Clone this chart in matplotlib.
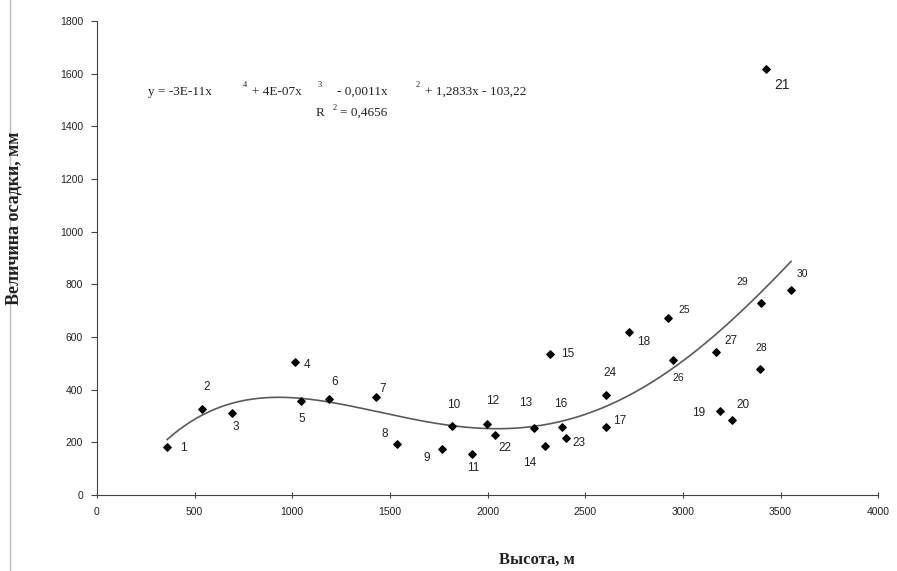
import numpy as np
import matplotlib.pyplot as plt
from matplotlib.lines import Line2D

# данные: высота (м) и величина осадки (мм) для точек 1..30
num = list(range(1, 31))
vys = [360, 539, 690, 1014, 1043, 1190, 1429, 1535, 1769, 1817,
       1922, 1996, 2240, 2294, 2318, 2383, 2605, 2726, 3192, 3251,
       3426, 2038, 2404, 2607, 2926, 2948, 3170, 3396, 3401, 3554]
osad = [183, 325, 313, 506, 356, 363, 371, 194, 175, 263,
        157, 268, 253, 187, 535, 259, 260, 619, 320, 284,
        1618, 228, 218, 381, 673, 513, 543, 477, 730, 777]

# смещения подписей точек (пиксели)
offs = {1: (16, -1), 2: (5, 22), 3: (4, -14), 4: (12, -3), 5: (1, -18),
        6: (5, 17), 7: (7, 8), 8: (-12, 10), 9: (-16, -9), 10: (2, 21),
        11: (1, -14), 12: (6, 23), 13: (-9, 25), 14: (-15, -17), 15: (18, 0),
        16: (-2, 23), 17: (14, 6), 18: (14, -10), 19: (-22, -2), 20: (11, 15),
        21: (16, -16), 22: (10, -13), 23: (13, -5), 24: (4, 22), 25: (16, 8),
        26: (6, -18), 27: (15, 11), 28: (1, 21), 29: (-19, 21), 30: (11, 16)}
small = [25, 26, 28, 29, 30]

x = np.array(vys)
y = np.array(osad)
coef = np.polyfit(x, y, 4)  # полиномиальный тренд 4-й степени
xt = np.linspace(x.min(), x.max(), 300)
yt = np.polyval(coef, xt)

fig = plt.figure(figsize=(8.97, 5.71), dpi=100)
ax = fig.add_axes([0.108, 0.133, 0.871, 0.830])
ax.plot(xt, yt, color='#5a5a5a', lw=1.2)
ax.scatter(x, y, s=14, marker='D', color='black', zorder=3)
for n, xi, yi in zip(num, vys, osad):
    fs = 7.5 if n in small else 8.5
    if n == 21:
        fs = 10
    ax.annotate(str(n), (xi, yi), xytext=offs[n], textcoords='offset pixels',
                ha='center', va='center', family='Liberation Sans',
                fontsize=fs, color='#222222')

ax.set_xlim(0, 4000)
ax.set_ylim(0, 1800)
ax.set_xticks(np.arange(0, 4001, 500))
ax.set_yticks(np.arange(0, 1801, 200))
for s in ['top', 'right']:
    ax.spines[s].set_visible(False)
for s in ['left', 'bottom']:
    ax.spines[s].set_color('#444444')
ax.tick_params(axis='x', direction='inout', length=5, labelsize=7.5, pad=6, colors='#444444', labelcolor='#222222')
ax.tick_params(axis='y', direction='out', length=4, labelsize=7.5, pad=6, colors='#444444', labelcolor='#222222')
for lab in ax.get_xticklabels() + ax.get_yticklabels():
    lab.set_family('Liberation Sans')

# подписи осей
fig.text(537 / 897, 1 - 560 / 571, 'Высота, м', family='Liberation Serif',
         fontsize=12, fontweight='bold', ha='center', va='center', color='#222222')
fig.text(14 / 897, 1 - 218 / 571, 'Величина осадки, мм', family='Liberation Serif',
         fontsize=13, fontweight='bold', rotation=90, ha='center', va='center', color='#222222')

# рамка слева
fig.add_artist(Line2D([10 / 897, 10 / 897], [0, 1], transform=fig.transFigure,
                      color='#bbbbbb', lw=1))

# уравнение тренда
parts = [(148, 92, 'y = -3E-11x'), (243, 85, '4'), (252, 92, '+ 4E-07x'),
         (318, 85, '3'), (337, 92, '- 0,0011x'), (416, 85, '2'),
         (425, 92, '+ 1,2833x - 103,22'), (316, 113, 'R'), (333, 108, '2'),
         (340, 113, '= 0,4656')]
for px, py, t in parts:
    sup = len(t) == 1 and t.isdigit()
    fig.text(px / 897, 1 - py / 571, t, va='center', ha='left',
             family='Liberation Serif', fontsize=6 if sup else 9.5, color='#222222')

fig.savefig('out.png', dpi=100)
